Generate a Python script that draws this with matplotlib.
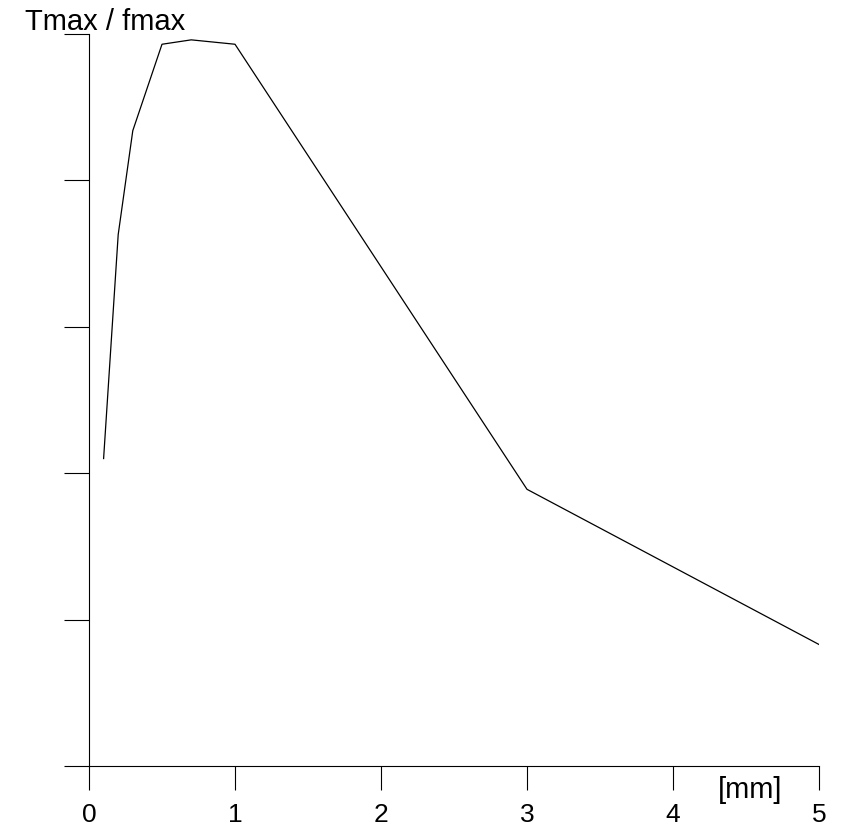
import matplotlib.pyplot as plt

plt.rcParams['font.family'] = ['Liberation Sans', 'DejaVu Sans']

# gap width in mm vs normalised ratio Tmax / fmax
gap_mm = [0.1, 0.2, 0.3, 0.5, 0.7, 1.0, 3.0, 5.0]
ratio = [2.10, 3.63, 4.34, 4.93, 4.96, 4.93, 1.89, 0.83]
x_ticks = [0, 1, 2, 3, 4, 5]
y_ticks = [0, 1, 2, 3, 4, 5]

W, H = 843, 829
fig = plt.figure(figsize=(W / 100, H / 100), dpi=100)
ax = fig.add_axes([89 / W, (H - 767) / H, (819 - 89) / W, (767 - 35) / H])

ax.plot(gap_mm, ratio, color='black', linewidth=0.9)

ax.set_xlim(0, 5)
ax.set_ylim(0, 5)
ax.set_xticks(x_ticks)
ax.set_xticklabels([str(t) for t in x_ticks], fontsize=19)
ax.set_yticks(y_ticks)
ax.set_yticklabels([])

for s in ['top', 'right']:
    ax.spines[s].set_visible(False)
for s in ['left', 'bottom']:
    ax.spines[s].set_linewidth(0.8)

ax.tick_params(axis='x', direction='out', length=17, width=0.8, pad=9)
ax.tick_params(axis='y', direction='out', length=18, width=0.8)

fig.text(25 / W, 1 - 22 / H, 'Tmax / fmax', fontsize=21, va='center', ha='left')
fig.text(750 / W, 1 - 790 / H, '[mm]', fontsize=21, va='center', ha='center')

fig.savefig('out.png', dpi=100)
